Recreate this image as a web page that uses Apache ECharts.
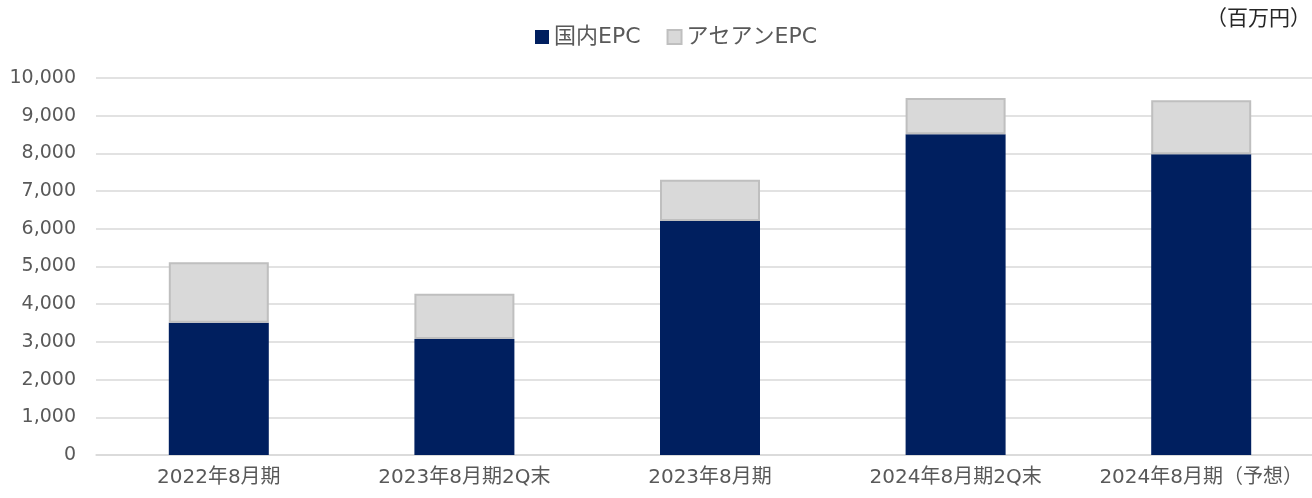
<!DOCTYPE html>
<html>
<head>
<meta charset="utf-8">
<script src="https://cdn.jsdelivr.net/npm/echarts@6/dist/echarts.min.js"></script>
<style>
  html, body { margin: 0; padding: 0; background: #fff; }
  #chart { width: 1312px; height: 498px; }
</style>
</head>
<body>
<div id="chart"></div>
<script>
const categories = ['2022年8月期', '2023年8月期2Q末', '2023年8月期', '2024年8月期2Q末', '2024年8月期（予想）'];
const domesticEPC = [3510, 3080, 6210, 8510, 7980];
const aseanEPC = [1600, 1200, 1090, 960, 1430];
const yTicks = [0, 10000, 1000]; // min, max, interval

const FONT = '"DejaVu Sans", "Noto Sans CJK JP", sans-serif';

const chart = echarts.init(document.getElementById('chart'));
chart.setOption({
    animation: false,
    textStyle: { fontFamily: FONT },
    legend: {
        top: 21,
        left: 530,
        itemWidth: 14,
        itemHeight: 14,
        itemGap: 26,
        icon: 'rect',
        textStyle: { fontSize: 22, color: '#595959', fontFamily: FONT },
        data: ['国内EPC', 'アセアンEPC']
    },
    graphic: [{
        type: 'text',
        right: 1,
        top: 7,
        style: { text: '（百万円）', fontSize: 21, fill: '#262626', fontFamily: '"Noto Sans CJK JP", sans-serif' }
    }],
    grid: { left: 96, top: 78, width: 1228, height: 377, outerBoundsMode: 'none', containLabel: false },
    xAxis: {
        type: 'category',
        data: categories,
        axisLine: { lineStyle: { color: '#d9d9d9', width: 1.5 } },
        axisTick: { show: false },
        axisLabel: { interval: 0, fontSize: 20, color: '#595959', margin: 13, fontFamily: FONT }
    },
    yAxis: {
        type: 'value',
        min: yTicks[0],
        max: yTicks[1],
        interval: yTicks[2],
        axisLine: { show: false },
        axisTick: { show: false },
        splitLine: { lineStyle: { color: '#d9d9d9', width: 1.5 } },
        axisLabel: {
            fontSize: 19, color: '#595959', margin: 20, fontFamily: FONT,
            formatter: v => v.toLocaleString('en-US')
        }
    },
    series: [{
        name: '国内EPC',
        type: 'bar',
        stack: 'total',
        barWidth: 100,
        data: domesticEPC,
        itemStyle: { color: '#001f5f' }
    }, {
        name: 'アセアンEPC',
        type: 'bar',
        stack: 'total',
        barWidth: 100,
        data: aseanEPC,
        itemStyle: { color: '#d9d9d9', borderColor: '#bfbfbf', borderWidth: 2 }
    }]
});
</script>
</body>
</html>
